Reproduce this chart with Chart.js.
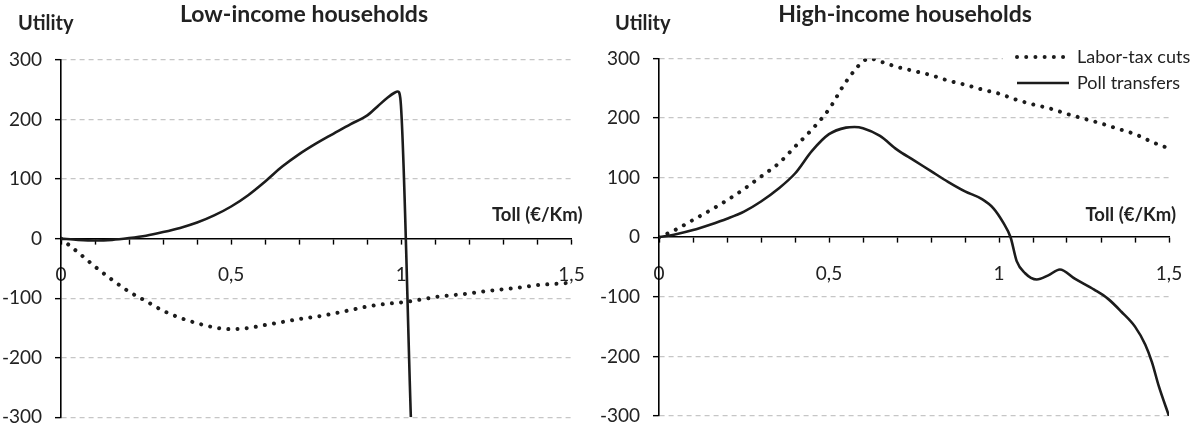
<!DOCTYPE html>
<html>
<head>
<meta charset="utf-8">
<script src="https://cdn.jsdelivr.net/npm/chart.js@4.4.1/dist/chart.umd.min.js"></script>
<style>
  html, body { margin: 0; padding: 0; background: #fff; }
  #wrap { display: flex; width: 1200px; height: 429px; }
  .panel { position: relative; width: 600px; height: 429px; }
</style>
</head>
<body>
<div id="wrap">
  <div class="panel"><canvas id="lowChart"></canvas></div>
  <div class="panel"><canvas id="highChart"></canvas></div>
</div>
<script>
// ---- data ----
const seriesNames = ['Labor-tax cuts', 'Poll transfers'];
const panelTitles = ['Low-income households', 'High-income households'];
const yTicks = [-300, -200, -100, 0, 100, 200, 300];
const xMinorTicks = [0, 0.1, 0.2, 0.3, 0.4, 0.5, 0.6, 0.7, 0.8, 0.9, 1, 1.1, 1.2, 1.3, 1.4, 1.5];
const xLabelValues = [0, 0.5, 1, 1.5];
const xLabelText = ['0', '0,5', '1', '1,5'];

const tollSteps = [0, 0.05, 0.1, 0.15, 0.2, 0.25, 0.3, 0.35, 0.4, 0.45, 0.5, 0.55, 0.6, 0.65, 0.7, 0.75,
                   0.8, 0.85, 0.9, 0.95, 1, 1.05, 1.1, 1.15, 1.2, 1.25, 1.3, 1.35, 1.4, 1.45, 1.5];

// low-income
const lowLaborY = [0, -23, -47, -69, -89, -105, -121, -133, -142, -149, -152, -150, -145, -140, -135, -131,
                   -126, -120, -114, -110, -107, -103, -98, -95, -92, -88, -85, -82, -78, -76, -74];
const lowPollX = [0, 0.05, 0.1, 0.15, 0.2, 0.25, 0.3, 0.35, 0.4, 0.45, 0.5, 0.55, 0.6, 0.65, 0.7, 0.75,
                  0.8, 0.85, 0.9, 0.93, 0.96, 0.98, 0.99, 0.997, 1.028];
const lowPollY = [0, -2, -3, -2, 1, 5, 11, 18, 27, 39, 54, 73, 96, 121, 142, 160,
                  176, 192, 207, 222, 237, 245, 247, 236, -300];

// high-income
const highLaborX = [0, 0.05, 0.1, 0.15, 0.2, 0.25, 0.3, 0.35, 0.4, 0.45, 0.5, 0.55, 0.6, 0.62, 0.65, 0.7,
                    0.75, 0.8, 0.85, 0.9, 0.95, 1, 1.05, 1.1, 1.15, 1.2, 1.25, 1.3, 1.35, 1.4, 1.45, 1.5];
const highLaborY = [0, 13, 29, 45, 62, 81, 102, 123, 152, 181, 215, 261, 295, 300, 295, 286,
                    279, 272, 263, 256, 248, 241, 231, 223, 216, 207, 199, 191, 182, 173, 160, 149];
const highPollX = [0, 0.05, 0.1, 0.15, 0.2, 0.25, 0.3, 0.35, 0.4, 0.45, 0.5, 0.55, 0.575, 0.6, 0.65, 0.7,
                   0.75, 0.8, 0.85, 0.9, 0.95, 0.983, 1.013, 1.034, 1.052, 1.076, 1.111, 1.145, 1.179, 1.224,
                   1.28, 1.32, 1.36, 1.4, 1.43, 1.45, 1.47, 1.5];
const highPollY = [0, 5, 12, 21, 31, 43, 60, 81, 107, 145, 173, 184, 185, 183, 170, 147,
                   129, 111, 93, 77, 64, 49, 24, 0, -40, -60, -71, -64, -54, -70,
                   -88, -103, -125, -150, -180, -210, -250, -300];

const FONT = 'Lato, "Open Sans", sans-serif';
const INK = '#1c1c1c';

const toPoints = (xs, ys) => xs.map((x, i) => ({ x: x, y: ys[i] }));

// titles, axis captions and the legend
const panelText = {
    id: 'panelText',
    afterDraw(chart, args, o) {
        const ctx = chart.ctx;
        const area = chart.chartArea;
        ctx.save();
        ctx.fillStyle = '#222';
        ctx.textBaseline = 'alphabetic';

        ctx.font = 'bold 23px ' + FONT;
        ctx.textAlign = 'center';
        ctx.fillText(o.title, o.titleX, 22);

        ctx.font = 'bold 20px ' + FONT;
        ctx.textAlign = 'left';
        ctx.fillText('Utility', o.utilX, 30);

        ctx.font = 'bold 18.5px ' + FONT;
        ctx.textAlign = 'right';
        ctx.textBaseline = 'middle';
        ctx.fillText('Toll (€/Km)', area.right + o.tollShift, 215);

        if (o.legend) {
            ctx.fillStyle = '#fff';
            ctx.fillRect(area.right - 166, 44, 200, 50);
            ctx.font = '18px ' + FONT;
            chart.data.datasets.forEach((ds, i) => {
                const y = 57 + i * 26;
                ctx.save();
                ctx.strokeStyle = ds.borderColor;
                ctx.lineWidth = ds.borderWidth;
                ctx.lineCap = ds.borderCapStyle || 'butt';
                ctx.setLineDash(ds.borderDash || []);
                ctx.beginPath();
                ctx.moveTo(area.right - 152, y);
                ctx.lineTo(area.right - 100, y);
                ctx.stroke();
                ctx.restore();
                ctx.fillStyle = '#222';
                ctx.textAlign = 'left';
                ctx.fillText(ds.label, area.right - 92, y);
            });
        }
        ctx.restore();
    }
};

const noPad = s => { s.paddingTop = 0; s.paddingBottom = 0; s.paddingLeft = 0; s.paddingRight = 0; };

function makePanel(canvasId, laborPts, pollPts, cfg) {
    const ctx = document.getElementById(canvasId).getContext('2d');
    return new Chart(ctx, {
        type: 'line',
        data: {
            datasets: [
                { label: seriesNames[0], data: laborPts, borderColor: INK, borderWidth: 4,
                  borderDash: [0.01, 9.2], borderCapStyle: 'round', pointRadius: 0,
                  cubicInterpolationMode: 'monotone', fill: false },
                { label: seriesNames[1], data: pollPts, borderColor: INK, borderWidth: 2.6,
                  pointRadius: 0, cubicInterpolationMode: 'monotone', fill: false }
            ]
        },
        options: {
            responsive: true, maintainAspectRatio: false, animation: false,
            layout: { padding: { left: 0, right: cfg.padRight, top: cfg.padTop, bottom: cfg.padBottom } },
            plugins: {
                legend: { display: false }, tooltip: { enabled: false },
                panelText: { title: cfg.title, titleX: cfg.titleX, utilX: cfg.utilX, tollShift: cfg.tollShift, legend: cfg.legend }
            },
            scales: {
                x: {
                    type: 'linear', position: { y: 0 }, min: 0, max: 1.5,
                    afterBuildTicks: s => { s.ticks = xMinorTicks.map(v => ({ value: v })); },
                    afterFit: noPad,
                    ticks: {
                        autoSkip: false, maxRotation: 0, padding: 20, color: '#222',
                        font: { family: FONT, size: 19 },
                        callback: v => {
                            const i = xLabelValues.findIndex(t => Math.abs(t - v) < 1e-6);
                            return i >= 0 ? xLabelText[i] : '';
                        }
                    },
                    grid: { display: true, drawOnChartArea: false, drawTicks: true, tickLength: 5,
                            tickColor: '#000', tickWidth: 1.4, tickBorderDash: [] },
                    border: { display: true, color: '#000', width: 1.6 }
                },
                y: {
                    type: 'linear', position: 'left', min: -300, max: 300,
                    afterBuildTicks: s => { s.ticks = yTicks.map(v => ({ value: v })); },
                    afterFit: s => { s.width = cfg.axisLeft; noPad(s); },
                    ticks: { padding: 13, color: '#222', font: { family: FONT, size: 19 } },
                    grid: {
                        color: c => (c.tick && c.tick.value === 0) ? 'rgba(0,0,0,0)' : '#c6c6c6',
                        lineWidth: 1.3, drawTicks: true, tickLength: 6,
                        tickColor: '#000', tickWidth: 1.4, tickBorderDash: []
                    },
                    border: { display: true, color: '#000', width: 1.6, dash: [5, 4] }
                }
            }
        },
        plugins: [panelText]
    });
}

makePanel('lowChart', toPoints(tollSteps, lowLaborY), toPoints(lowPollX, lowPollY), {
    title: panelTitles[0], titleX: 304, utilX: 18, tollShift: 11,
    axisLeft: 61, padRight: 28.5, padTop: 60, padBottom: 11.7, legend: false
});
makePanel('highChart', toPoints(highLaborX, highLaborY), toPoints(highPollX, highPollY), {
    title: panelTitles[1], titleX: 305, utilX: 15, tollShift: 7,
    axisLeft: 59, padRight: 31, padTop: 58.5, padBottom: 13, legend: true
});
</script>
</body>
</html>
